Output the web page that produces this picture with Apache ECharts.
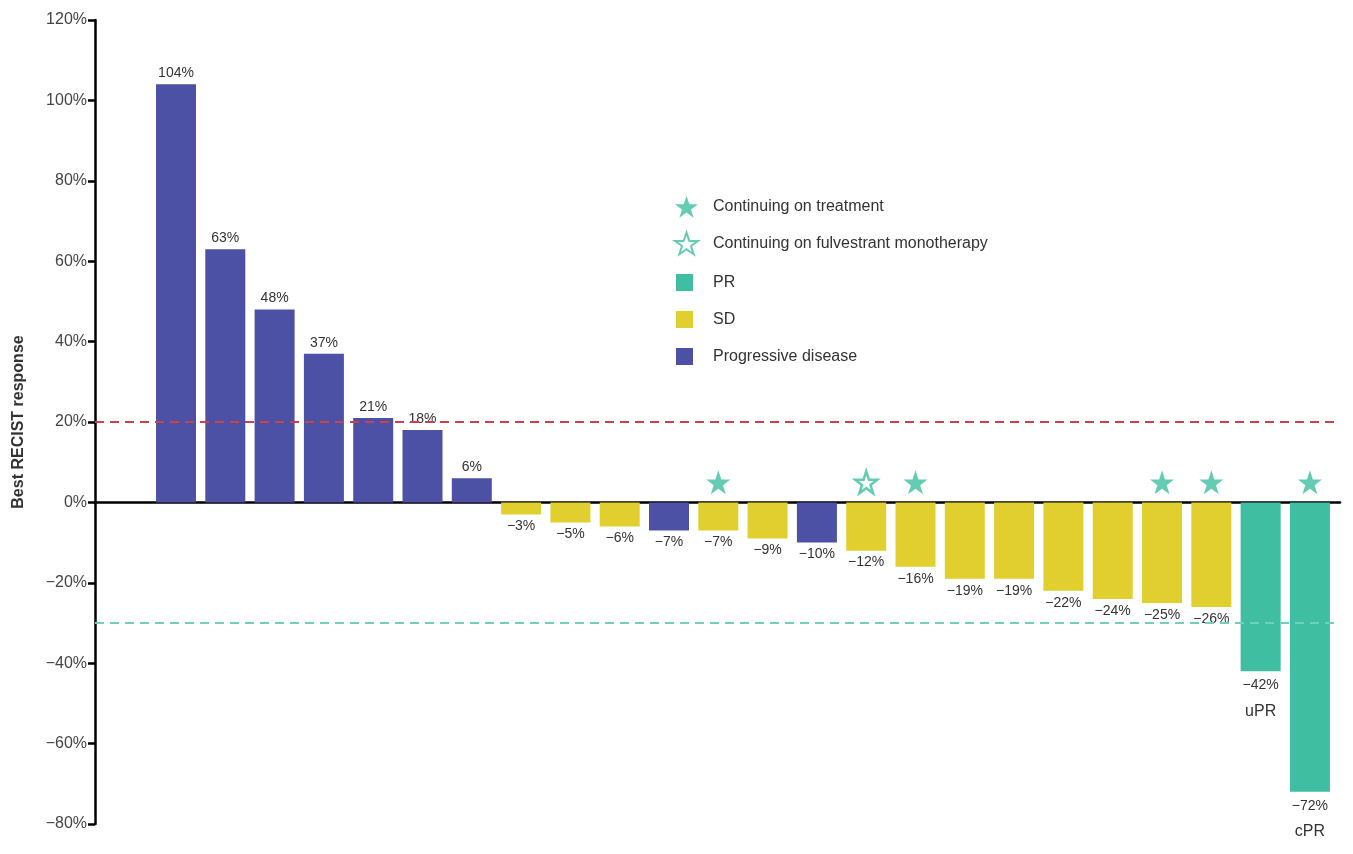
<!DOCTYPE html>
<html>
<head>
<meta charset="utf-8">
<script src="https://cdn.jsdelivr.net/npm/echarts@6/dist/echarts.min.js"></script>
<style>
  html, body { margin: 0; padding: 0; background: #fff; }
  #chart { width: 1353px; height: 854px; }
</style>
</head>
<body>
<div id="chart"></div>
<script>
// Best change in tumour size per patient, sorted from largest growth to largest shrinkage
const responses = [104, 63, 48, 37, 21, 18, 6, -3, -5, -6, -7, -7, -9, -10, -12, -16, -19, -19, -22, -24, -25, -26, -42, -72];
// Best overall response per patient: PD = progressive disease, SD = stable disease, PR = partial response
const responseClass = ['PD','PD','PD','PD','PD','PD','PD','SD','SD','SD','PD','SD','SD','PD','SD','SD','SD','SD','SD','SD','SD','SD','PR','PR'];
// Confirmation status printed under the PR bars
const prNotes = ['', '', '', '', '', '', '', '', '', '', '', '', '', '', '', '', '', '', '', '', '', '', 'uPR', 'cPR'];
// Treatment status markers: patient indices
const onTreatment = [11, 15, 20, 21, 23];
const onFulvestrant = [14];
// Reference thresholds (RECIST progression / response)
const progressionLine = 20;
const responseLine = -30;
const yTicks = { min: -80, max: 120, step: 20 };

const starMarkerLevel = 5;
const STAR = 'path://M50,2 L61.8,36.2 L97.6,36.2 L68.6,57.4 L79.6,91.6 L50,70.6 L20.4,91.6 L31.4,57.4 L2.4,36.2 L38.2,36.2 Z';

const colors = { PD: '#4c51a5', SD: '#e1cf30', PR: '#3fbea2', star: '#3dbfa0' };
const classNames = { PR: 'PR', SD: 'SD', PD: 'Progressive disease' };

function fmtPct(v) {
  return (v < 0 ? '\u2212' + Math.abs(v) : String(v)) + '%';
}

function barSeries(cls) {
  const data = [];
  responses.forEach((v, i) => {
    if (responseClass[i] !== cls) return;
    const note = prNotes[i];
    data.push({
      value: [i, v],
      label: {
        position: v >= 0 ? 'top' : 'bottom',
        distance: v >= 0 ? 4 : 5,
        formatter: note ? '{v|' + fmtPct(v) + '}\n{n|' + note + '}' : fmtPct(v)
      }
    });
  });
  return {
    name: classNames[cls],
    type: 'bar',
    barWidth: 40,
    barGap: '-100%',
    itemStyle: { color: colors[cls] },
    label: {
      show: true,
      color: '#333',
      fontSize: 14,
      rich: {
        v: { fontSize: 14, color: '#333', lineHeight: 18 },
        n: { fontSize: 16, color: '#333', lineHeight: 18, padding: [16, 0, 0, 0] }
      }
    },
    data: data
  };
}

const chart = echarts.init(document.getElementById('chart'), null, { renderer: 'canvas' });

const option = {
  animation: false,
  backgroundColor: '#fff',
  textStyle: { fontFamily: 'Liberation Sans, Arial, sans-serif' },
  grid: { left: 95, right: 13, top: 20, bottom: 30, containLabel: false },
  legend: [
    {
      orient: 'vertical',
      left: 669,
      top: 191,
      itemWidth: 23,
      itemHeight: 23,
      itemGap: 14,
      selectedMode: false,
      textStyle: { fontSize: 16, color: '#333', padding: [0, 0, 0, 10] },
      data: ['Continuing on treatment', 'Continuing on fulvestrant monotherapy']
    },
    {
      orient: 'vertical',
      left: 671,
      top: 269,
      icon: 'rect',
      itemWidth: 17,
      itemHeight: 17,
      itemGap: 20,
      selectedMode: false,
      textStyle: { fontSize: 16, color: '#333', padding: [0, 0, 0, 15] },
      data: ['PR', 'SD', 'Progressive disease']
    }
  ],
  xAxis: {
    type: 'value',
    min: -1.643,
    max: 23.61,
    axisLine: { show: true, onZero: true, lineStyle: { color: '#000', width: 2.5 } },
    axisTick: { show: false },
    axisLabel: { show: false },
    splitLine: { show: false }
  },
  yAxis: {
    type: 'value',
    min: yTicks.min,
    max: yTicks.max,
    interval: yTicks.step,
    name: 'Best RECIST response',
    nameLocation: 'middle',
    nameGap: 68,
    nameTextStyle: { fontSize: 16, fontWeight: 'bold', color: '#333' },
    axisLine: { show: true, onZero: false, lineStyle: { color: '#000', width: 2.5 } },
    axisTick: { show: true, length: 7, lineStyle: { color: '#000', width: 2.5 } },
    axisLabel: { fontSize: 16, color: '#444', margin: 8, formatter: v => fmtPct(v) },
    splitLine: { show: false }
  },
  series: [
    barSeries('PD'),
    barSeries('SD'),
    Object.assign(barSeries('PR'), {
      markLine: {
        silent: true,
        symbol: 'none',
        label: { show: false },
        data: [
          { yAxis: progressionLine, lineStyle: { color: '#c9434c', type: [9, 6], width: 2 } },
          { yAxis: responseLine, lineStyle: { color: '#6fd2b8', type: [9, 6], width: 2 } }
        ]
      }
    }),
    {
      name: 'Continuing on treatment',
      type: 'scatter',
      symbol: STAR,
      symbolSize: 24,
      itemStyle: { color: colors.star },
      data: onTreatment.map(i => [i, starMarkerLevel])
    },
    {
      name: 'Continuing on fulvestrant monotherapy',
      type: 'scatter',
      symbol: STAR,
      symbolSize: 22,
      itemStyle: { color: '#fff', borderColor: colors.star, borderWidth: 2.5 },
      data: onFulvestrant.map(i => [i, starMarkerLevel])
    }
  ]
};

chart.setOption(option);
</script>
</body>
</html>
